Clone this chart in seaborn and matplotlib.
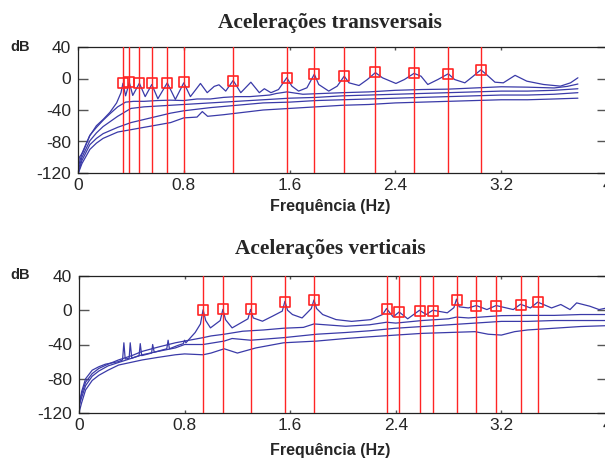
import matplotlib
matplotlib.use('Agg')

import matplotlib.pyplot as plt
import seaborn as sns

# ---------------- data ----------------
# transversal accelerations: picked peaks
trans_peak_f = [0.34, 0.388, 0.464, 0.558, 0.675, 0.80, 1.173, 1.579, 1.787, 2.013, 2.249, 2.541, 2.80, 3.046]
trans_peak_db = [-5.8, -4.6, -5.8, -6.3, -5.8, -4.6, -2.9, 0.5, 5.6, 2.6, 7.7, 6.5, 6.0, 11.1]

# transversal spectra (5 curves)
trans_a_f = [0, 0.003, 0.01, 0.036, 0.088, 0.139, 0.19, 0.241, 0.292, 0.325, 0.34, 0.36, 0.388, 0.414,
             0.464, 0.508, 0.558, 0.604, 0.675, 0.736, 0.80, 0.85, 0.926, 0.977, 1.03, 1.066, 1.117,
             1.173, 1.231, 1.307, 1.371, 1.409, 1.459, 1.516, 1.579, 1.617, 1.668, 1.731, 1.787, 1.82,
             1.896, 1.96, 2.013, 2.049, 2.125, 2.188, 2.249, 2.302, 2.404, 2.468, 2.541, 2.594, 2.645,
             2.721, 2.80, 2.848, 2.925, 2.988, 3.046, 3.089, 3.153, 3.216, 3.305, 3.394, 3.52, 3.648,
             3.724, 3.78]
trans_a_db = [-40, -110, -100, -94, -73, -60, -52, -43, -31, -18, -6, -22, -5, -21.5,
              -6, -23, -7.6, -25.7, -5.5, -26.6, -5.5, -23, -6.3, -18, -10, -8, -16,
              -2.5, -18, -4.7, -18, -13, -18, -14, 1, -9.7, -16, -11.8, 5.5, -7.6,
              -16, -9.7, 3, -5.5, -8.9, -1.3, 7.5, 0.9, -6.3, -1.3, 6.5, 2.9, -7.6,
              -1.3, 6, -1.3, -5.5, 2.9, 11, 5, -4.7, -5.5, 4, -3.4, -7.6, -9.7,
              -5.5, 0.9]

trans_b_f = [0.003, 0.03, 0.09, 0.14, 0.19, 0.24, 0.30, 0.36, 0.42, 0.5, 0.6, 0.7, 0.8, 0.9, 1.0, 1.1,
             1.2, 1.3, 1.45, 1.5, 1.58, 1.7, 1.85, 2.0, 2.2, 2.4, 2.6, 2.8, 3.0, 3.2, 3.4, 3.6, 3.7, 3.78]
trans_b_db = [-112, -95, -72, -62, -53, -45, -36, -30, -29, -29, -28, -27.5, -28, -26, -26, -24,
              -23, -23, -21, -19, -17, -20, -19, -18, -17, -15, -14, -13.5, -12, -10.5, -11, -12, -10, -7]

trans_c_f = [0.003, 0.03, 0.09, 0.14, 0.19, 0.3, 0.4, 0.5, 0.6, 0.8, 1.0, 1.2, 1.4, 1.6, 1.8, 2.0,
             2.2, 2.4, 2.6, 2.8, 3.0, 3.2, 3.4, 3.6, 3.78]
trans_c_db = [-116, -100, -79, -69, -61, -48, -38, -36, -35, -33, -31, -29, -27, -25, -24, -22,
              -21, -20, -19, -18, -17, -16, -16, -15, -13]

trans_d_f = [0.003, 0.03, 0.09, 0.14, 0.19, 0.3, 0.4, 0.5, 0.6, 0.7, 0.8, 0.9, 1.0, 1.2, 1.4, 1.6,
             1.8, 2.0, 2.2, 2.4, 2.6, 2.8, 3.0, 3.2, 3.4, 3.6, 3.78]
trans_d_db = [-119, -104, -84, -76, -70, -62, -56, -52, -48, -44, -41, -39, -37, -34, -31, -30,
              -28, -27, -26, -25, -24, -23, -22, -21, -21, -20, -18]

trans_e_f = [0.003, 0.03, 0.09, 0.14, 0.19, 0.3, 0.4, 0.5, 0.6, 0.7, 0.8, 0.9, 0.94, 0.98, 1.1, 1.2,
             1.4, 1.6, 1.8, 2.0, 2.2, 2.4, 2.6, 2.8, 3.0, 3.2, 3.4, 3.6, 3.78]
trans_e_db = [-120, -108, -90, -82, -76, -68, -65, -62, -59, -56, -50, -49, -42, -48, -46, -44,
              -40, -38, -36, -34, -33, -31, -30, -29, -28, -27, -27, -26, -25]

# vertical accelerations: picked peaks
vert_peak_f = [0.94, 1.09, 1.30, 1.56, 1.78, 2.33, 2.425, 2.58, 2.68, 2.86, 3.01, 3.16, 3.345, 3.475]
vert_peak_db = [0.8, 1.6, 1.6, 9.4, 11.4, 1.6, -2.4, -0.4, -0.4, 12.5, 5.5, 5.5, 6.7, 9.8]

# vertical spectra (4 curves)
vert_a_f = [0, 0.003, 0.02, 0.05, 0.1, 0.15, 0.2, 0.3, 0.33, 0.34, 0.35, 0.38, 0.388, 0.40, 0.455,
            0.464, 0.475, 0.55, 0.558, 0.57, 0.665, 0.675, 0.685, 0.75, 0.79, 0.80, 0.81, 0.88, 0.92,
            0.94, 0.96, 0.996, 1.07, 1.09, 1.11, 1.16, 1.28, 1.30, 1.32, 1.39, 1.465, 1.54, 1.56, 1.58,
            1.617, 1.69, 1.76, 1.78, 1.80, 1.846, 1.947, 2.065, 2.21, 2.30, 2.33, 2.38, 2.425, 2.49,
            2.58, 2.63, 2.68, 2.79, 2.84, 2.86, 2.88, 2.95, 3.01, 3.09, 3.16, 3.29, 3.345, 3.42, 3.475,
            3.58, 3.65, 3.72, 3.77, 3.87, 3.94, 4.0]
vert_a_db = [-42, -112, -95, -80, -70, -66, -63, -60, -58, -38, -57, -56, -38, -56, -53,
             -39, -53, -50, -40, -49, -45, -35, -45, -41, -39, -35, -38, -26, -16,
             0.5, -12, -20.6, -12, 1, -11, -20.6, -10, 1, -9, -12.8, -7, -1, 10.5, 0,
             -5, -9, 2, 12, 2, -5, -10.9, -13, -11, -5, 2, -7.8, -2, -10,
             0, -5, 0, -3, 3, 13, 4, 2.7, 5.5, 0.8, 5.5, 0.8, 7, 2.7, 9.5,
             2.7, 6.7, 0.8, 8.6, 4.7, 0.8, 2.7]

vert_b_f = [0.003, 0.02, 0.05, 0.1, 0.15, 0.22, 0.3, 0.4, 0.48, 0.6, 0.73, 0.8, 0.94, 1.0, 1.1, 1.24,
            1.4, 1.55, 1.7, 1.78, 2.02, 2.2, 2.33, 2.4, 2.6, 2.8, 2.86, 2.95, 3.2, 3.4, 3.6, 3.8, 4.0]
vert_b_db = [-105, -98, -84, -74, -68, -63, -58, -53, -48, -43, -38, -36, -32, -30, -28, -24.5,
             -23, -21, -20, -16, -18.7, -17, -14, -15, -12, -10, -8, -9, -6.3, -6, -6, -5, -5]

vert_c_f = [0.003, 0.02, 0.05, 0.1, 0.15, 0.22, 0.3, 0.48, 0.6, 0.73, 0.8, 0.94, 1.1, 1.16, 1.3, 1.55,
            1.8, 2.02, 2.2, 2.4, 2.6, 2.8, 3.0, 3.2, 3.4, 3.6, 3.8, 4.0]
vert_c_db = [-110, -102, -88, -77, -71, -65, -61, -52, -48, -44, -40, -40, -36, -33, -35, -32,
             -28, -26, -24, -21, -19, -17, -15, -13, -13, -12, -12, -12]

vert_d_f = [0.003, 0.02, 0.05, 0.1, 0.15, 0.22, 0.3, 0.48, 0.6, 0.73, 0.8, 0.94, 1.0, 1.1, 1.2, 1.34,
            1.55, 1.8, 2.02, 2.2, 2.4, 2.6, 2.8, 3.0, 3.1, 3.2, 3.3, 3.4, 3.6, 3.8, 4.0]
vert_d_db = [-118, -108, -93, -82, -76, -70, -64, -58, -55, -52, -51, -52, -50, -45, -50, -44,
             -38, -36, -33, -31, -29, -27, -26, -25, -28, -29, -25, -23, -21, -19, -18]

x_ticks = [0, 0.8, 1.6, 2.4, 3.2, 4]
x_tick_labels = ["0", "0.8", "1.6", "2.4", "3.2", "4"]
y_ticks = [40, 0, -40, -80, -120]

BLUE = '#3a3aa8'
RED = '#ff2424'

sns.set_style("white")
plt.rcParams['font.family'] = ['Liberation Sans', 'DejaVu Sans']
plt.rcParams['axes.unicode_minus'] = False

W, H = 605, 458
fig = plt.figure(figsize=(W / 100, H / 100), dpi=100)


def px_box(left, top, right, bottom):
    return [left / W, 1 - bottom / H, (right - left) / W, (bottom - top) / H]


def draw_panel(rect, curves, peak_f, peak_db, title, title_base, xlabel_y, db_y):
    ax = fig.add_axes(px_box(*rect))
    for f, db in curves:
        sns.lineplot(x=f, y=db, ax=ax, color=BLUE, linewidth=0.9,
                     estimator=None, sort=False, zorder=2)
    for f in peak_f:
        ax.axvline(f, color=RED, linewidth=1.0, zorder=3)
    sns.scatterplot(x=peak_f, y=peak_db, ax=ax, marker='s', s=52,
                    edgecolor=RED, linewidth=1.2, zorder=4)
    ax.collections[-1].set_facecolor('none')

    ax.set_xlim(0, 4)
    ax.set_ylim(-120, 40)
    ax.set_xticks(x_ticks)
    ax.set_xticklabels(x_tick_labels)
    ax.set_yticks(y_ticks)
    ax.set_xlabel('')
    ax.set_ylabel('')
    ax.tick_params(axis='y', direction='in', length=7.5, width=1, color='#555555',
                   left=True, right=True, labelsize=12.5, pad=5)
    ax.tick_params(axis='x', direction='in', length=2.5, width=1, color='#555555',
                   bottom=True, top=True, labelsize=12.5, pad=3.5)
    for s in ax.spines.values():
        s.set_color('#222222')
        s.set_linewidth(0.9)

    fig.text(330 / W, 1 - title_base / H, title, ha='center', va='baseline',
             family=['Liberation Serif', 'DejaVu Serif'], fontsize=15.4, fontweight='bold')
    fig.text(330 / W, 1 - xlabel_y / H, 'Frequência (Hz)', ha='center', va='center',
             fontsize=11.5, fontweight='bold')
    fig.text(10 / W, 1 - db_y / H, 'dB', ha='left', va='center',
             fontsize=10.5, fontweight='bold')
    return ax


trans_curves = [(trans_a_f, trans_a_db), (trans_b_f, trans_b_db), (trans_c_f, trans_c_db),
                (trans_d_f, trans_d_db), (trans_e_f, trans_e_db)]
vert_curves = [(vert_a_f, vert_a_db), (vert_b_f, vert_b_db), (vert_c_f, vert_c_db),
               (vert_d_f, vert_d_db)]

draw_panel((78, 47, 607, 173), trans_curves, trans_peak_f, trans_peak_db,
           'Acelerações transversais', 28, 207, 47)
draw_panel((79, 276, 607, 413), vert_curves, vert_peak_f, vert_peak_db,
           'Acelerações verticais', 254, 450, 275)

fig.savefig('out.png', dpi=100)
